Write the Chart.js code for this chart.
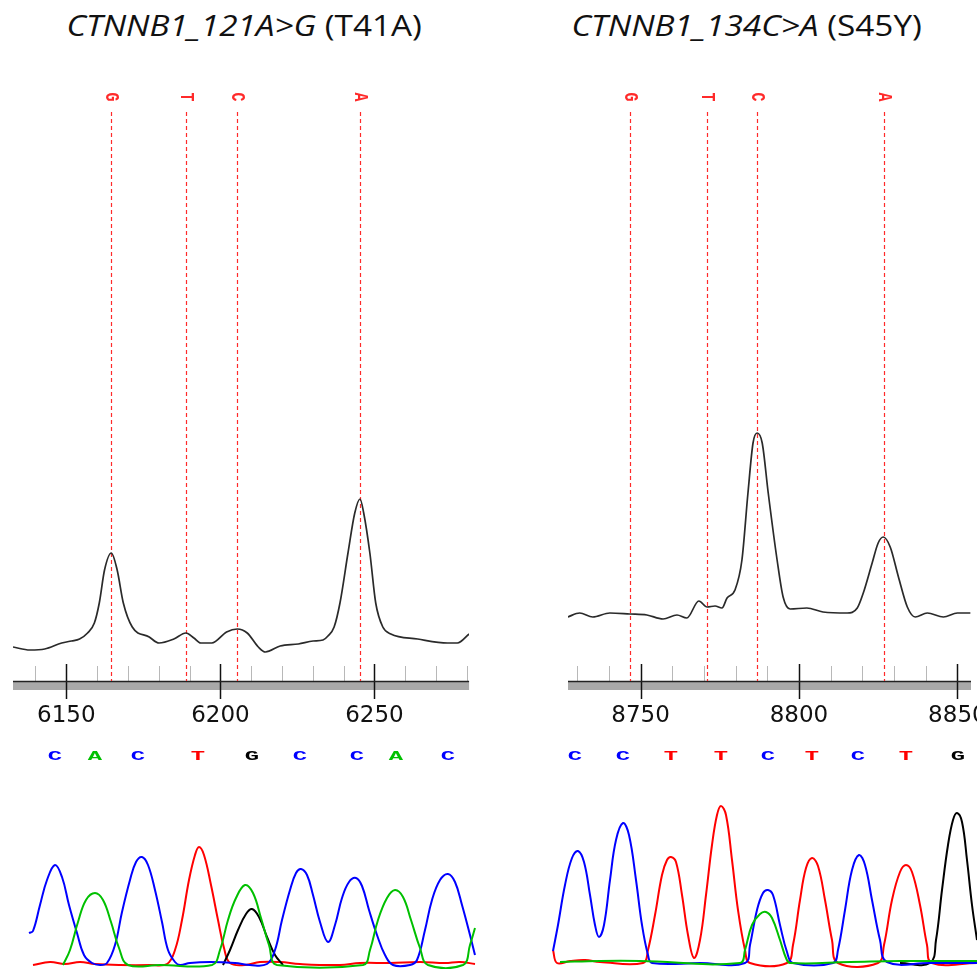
<!DOCTYPE html>
<html>
<head>
    <title>CTNNB1 chromatograms</title>
    <script src="https://cdn.jsdelivr.net/npm/chart.js"></script>
    <style>
        html, body { margin: 0; padding: 0; background: #fff; width: 977px; height: 969px; overflow: hidden; }
        canvas { position: absolute; }
        .title { position: absolute; top: 10px; line-height: 30px; font-family: "Open Sans", sans-serif; font-size: 30px; color: #111; white-space: nowrap; text-align: center; }
        .title span { display: inline-block; transform-origin: center; }
    </style>
</head>
<body>
    <div class="title" style="left:0px;width:488px"><span id="titleL"></span></div>
    <div class="title" style="left:540px;width:414px"><span id="titleR"></span></div>
    <canvas id="traceL" width="488" height="660" style="left:0px;top:80px"></canvas>
    <canvas id="traceR" width="470" height="660" style="left:540px;top:80px"></canvas>
    <canvas id="chromL" width="488" height="229" style="left:0px;top:740px"></canvas>
    <canvas id="chromR" width="437" height="229" style="left:540px;top:740px"></canvas>
<script>
    // titles
    const titleL = ['CTNNB1_121A>G', '(T41A)'];
    const titleR = ['CTNNB1_134C>A', '(S45Y)'];

    // mutation trace, left panel (position, signal)
    const traceL_pos = [6132.7, 6138.2, 6143.0, 6148.5, 6151.7, 6154.3, 6156.9, 6159.1, 6160.7, 6162.4, 6164.6, 6166.5, 6168.5, 6171.4,
        6176.9, 6180.1, 6184.9, 6188.8, 6191.4, 6193.6, 6197.2, 6202.0, 6205.5, 6208.7, 6212.3, 6214.6, 6219.4, 6225.3, 6230.1,
        6233.3, 6234.9, 6236.9, 6238.8, 6241.4, 6243.6, 6245.3, 6246.5, 6248.5, 6250.4, 6252.7, 6255.3, 6264.0, 6273.7, 6276.9, 6280.7];
    const traceL_val = [34, 31, 32, 38, 40, 42, 48, 58, 78, 111, 128, 111, 78, 54,
        44, 38, 42, 48, 43, 38, 38, 49, 52, 48, 34, 29, 35, 37, 40,
        41, 45, 54, 78, 128, 168, 182, 168, 128, 78, 54, 47, 42, 38, 38, 47];
    const marksL_pos = [6164.6, 6188.8, 6205.5, 6245.3];
    const marksL_base = ['G', 'T', 'C', 'A'];
    const ticksL = [6140, 6150, 6160, 6170, 6180, 6190, 6200, 6210, 6220, 6230, 6240, 6250, 6260, 6270, 6280];
    const rangeL = [6132.7, 6280.7];

    // mutation trace, right panel
    const traceR_pos = [8727.0, 8730.8, 8734.9, 8740.3, 8746.6, 8752.0, 8757.1, 8761.5, 8764.6, 8768.4, 8771.0, 8773.5, 8775.7,
        8777.3, 8779.8, 8782.0, 8783.9, 8785.5, 8786.8, 8788.4, 8790.3, 8793.1, 8795.0, 8797.2, 8802.5, 8807.6, 8815.2,
        8818.4, 8820.3, 8823.1, 8825.0, 8826.6, 8828.8, 8831.4, 8834.2, 8836.7, 8840.5, 8845.6, 8850.0, 8854.1];
    const traceR_val = [64, 68, 64, 68, 67, 66, 62, 66, 63, 80, 74, 75, 73,
        83, 91, 121, 188, 238, 248, 238, 188, 121, 84, 72, 73, 69, 68,
        73, 88, 118, 138, 144, 134, 104, 74, 64, 68, 64, 68, 68];
    const marksR_pos = [8746.6, 8771.0, 8786.8, 8826.7];
    const marksR_base = ['G', 'T', 'C', 'A'];
    const ticksR = [8730, 8740, 8750, 8760, 8770, 8780, 8790, 8800, 8810, 8820, 8830, 8840, 8850];
    const rangeR = [8727.1, 8854.3];

    // base calls
    const callsL_pos = [55, 95, 138, 198, 252, 300, 357, 396, 448];
    const callsL = ['C', 'A', 'C', 'T', 'G', 'C', 'C', 'A', 'C'];
    const callsR_pos = [35, 83, 131, 181, 228, 272, 318, 366, 418];
    const callsR = ['C', 'C', 'T', 'T', 'C', 'T', 'C', 'T', 'G'];

    // chromatogram, left panel (scan, intensity)
    const chromL_C_x = [29, 33, 40, 47, 55, 62, 69, 77, 84, 92, 100, 107, 115, 122, 130, 136, 142, 148, 155, 162, 168, 175, 180, 190, 210, 235, 250,
        267, 275, 282, 290, 296, 301, 307, 313, 320, 328, 335, 342, 349, 356, 362, 369, 377, 385, 393, 410, 417, 425, 432, 440, 448, 455, 462, 470, 475];
    const chromL_C_y = [32, 34, 60, 85, 100, 88, 60, 32, 10, 2, 0, 2, 20, 53, 85, 103, 108, 100, 75, 43, 15, 3, 0, 2, 3, 2, 0,
        1, 15, 45, 75, 92, 96, 90, 70, 43, 23, 40, 67, 83, 87, 79, 55, 30, 10, 0, 0, 5, 35, 65, 85, 91, 83, 60, 30, 10];
    const chromL_A_x = [63, 70, 78, 86, 95, 103, 111, 119, 128, 160, 212, 220, 228, 236, 245, 253, 261, 269, 277, 363, 370, 378, 387, 395, 403, 411, 420, 428, 463, 470, 475];
    const chromL_A_y = [0, 15, 43, 65, 72, 65, 43, 17, 0, 0, 0, 15, 45, 67, 80, 72, 47, 20, 0, 0, 15, 45, 67, 75, 68, 45, 17, 0, 0, 20, 37];
    const chromL_G_x = [223, 230, 238, 246, 252, 259, 267, 275, 283];
    const chromL_G_y = [0, 15, 35, 51, 56, 48, 28, 10, 0];
    const chromL_T_x = [33, 50, 65, 80, 95, 120, 150, 167, 175, 182, 189, 195, 199, 204, 211, 218, 224, 230, 245, 260, 280, 300, 340, 360, 390, 420, 445, 460, 475];
    const chromL_T_y = [0, 3, 1, 3, 1, 0, 0, 1, 15, 45, 85, 110, 118, 110, 80, 45, 17, 2, 0, 3, 3, 1, 0, 2, 2, 3, 2, 3, 1];

    // chromatogram, right panel
    const chromR_C_x = [13, 18, 25, 32, 38, 44, 50, 55, 59, 64, 70, 76, 83, 89, 96, 102, 108, 112, 160, 205, 210, 217, 223, 228, 233, 240, 247, 253,
        293, 298, 305, 312, 319, 325, 332, 340, 347, 390, 437];
    const chromR_C_y = [14, 40, 80, 107, 114, 103, 70, 40, 28, 40, 85, 125, 142, 130, 85, 40, 10, 2, 2, 2, 20, 55, 72, 75, 70, 40, 13, 2,
        2, 15, 55, 95, 110, 100, 65, 25, 3, 2, 2];
    const chromR_T_x = [13, 17, 30, 45, 60, 103, 108, 115, 122, 127, 131, 136, 142, 148, 154, 160, 166, 172, 177, 181, 186, 192, 198, 205, 210,
        247, 253, 260, 266, 272, 278, 285, 292, 298, 338, 344, 352, 360, 366, 372, 380, 387, 392, 437];
    const chromR_T_y = [15, 2, 4, 5, 3, 2, 15, 50, 90, 105, 108, 103, 70, 30, 7, 25, 70, 120, 150, 159, 150, 105, 55, 15, 2,
        2, 20, 65, 97, 107, 99, 65, 25, 2, 2, 20, 65, 93, 100, 93, 60, 20, 2, 2];
    const chromR_A_x = [20, 60, 100, 200, 205, 212, 220, 226, 232, 240, 246, 250, 310, 360, 437];
    const chromR_A_y = [3, 4, 4, 2, 15, 40, 51, 53, 47, 25, 7, 2, 3, 4, 4];
    const chromR_G_x = [360, 390, 396, 402, 408, 413, 417, 422, 427, 432, 437];
    const chromR_G_y = [2, 2, 25, 75, 120, 145, 152, 143, 105, 60, 25];

    const baseColors = { A: '#00c000', C: '#0000ff', G: '#000000', T: '#ff0000' };

    function zip(xs, ys) {
        return xs.map((x, i) => ({ x: x, y: ys[i] }));
    }

    function setTitle(id, parts) {
        const el = document.getElementById(id);
        const it = document.createElement('i');
        it.textContent = parts[0];
        el.appendChild(it);
        el.appendChild(document.createTextNode(' ' + parts[1]));
    }
    setTitle('titleL', titleL);
    setTitle('titleR', titleR);
    // squeeze to the reference width (Calibri-like)
    [['titleL', 355], ['titleR', 350]].forEach(([id, w]) => {
        const el = document.getElementById(id);
        el.style.transform = 'scaleX(' + (w / el.offsetWidth) + ')';
    });

    function axisPlugin(ticks, marks, bases) {
        return {
            id: 'seqAxis',
            beforeDatasetsDraw(chart) {
                const ctx = chart.ctx, a = chart.chartArea, sx = chart.scales.x;
                ctx.save();
                ctx.fillStyle = '#a9a9a9';
                ctx.fillRect(a.left, a.bottom + 1, a.right - a.left, 8);
                ticks.forEach(v => {
                    const px = Math.round(sx.getPixelForValue(v)) + 0.5;
                    ctx.beginPath();
                    if (v % 50 === 0) {
                        ctx.strokeStyle = '#111';
                        ctx.lineWidth = 1.5;
                        ctx.moveTo(px, a.bottom - 17);
                        ctx.lineTo(px, a.bottom + 18);
                    } else {
                        ctx.strokeStyle = '#b8b8b8';
                        ctx.lineWidth = 1;
                        ctx.moveTo(px, a.bottom - 15);
                        ctx.lineTo(px, a.bottom);
                    }
                    ctx.stroke();
                });
                ctx.strokeStyle = '#222';
                ctx.lineWidth = 1.5;
                ctx.beginPath();
                ctx.moveTo(a.left, a.bottom + 0.5);
                ctx.lineTo(a.right, a.bottom + 0.5);
                ctx.stroke();

                // base-change markers: dashed red verticals with rotated base letters
                ctx.strokeStyle = '#ff2a2a';
                ctx.lineWidth = 1.2;
                ctx.setLineDash([4, 3]);
                marks.forEach(p => {
                    const px = Math.round(sx.getPixelForValue(p)) + 0.5;
                    ctx.beginPath();
                    ctx.moveTo(px, a.top);
                    ctx.lineTo(px, a.bottom);
                    ctx.stroke();
                });
                ctx.setLineDash([]);

                ctx.fillStyle = '#ff2a2a';
                ctx.font = 'bold 15px "Liberation Mono"';
                ctx.textAlign = 'center';
                ctx.textBaseline = 'middle';
                marks.forEach((p, i) => {
                    ctx.save();
                    ctx.translate(Math.round(sx.getPixelForValue(p)) + 0.5, a.top - 15);
                    ctx.rotate(Math.PI / 2);
                    ctx.scale(1, 1.35);
                    ctx.fillText(bases[i], 0, 0);
                    ctx.restore();
                });
                ctx.restore();
            }
        };
    }

    function tracePanel(id, pos, val, marks, bases, ticks, range, padL, padR) {
        new Chart(document.getElementById(id), {
            type: 'line',
            data: {
                datasets: [{
                    data: zip(pos, val),
                    borderColor: '#2a2a2a',
                    borderWidth: 1.7,
                    pointRadius: 0,
                    cubicInterpolationMode: 'monotone'
                }]
            },
            options: {
                responsive: false,
                animation: false,
                events: [],
                layout: { padding: { left: padL, right: padR, top: 32, bottom: 0 } },
                plugins: { legend: { display: false }, tooltip: { enabled: false } },
                scales: {
                    x: {
                        type: 'linear',
                        min: range[0],
                        max: range[1],
                        afterBuildTicks: s => { s.ticks = ticks.map(v => ({ value: v })); },
                        afterFit: s => { s.height = 59; },
                        border: { display: false },
                        grid: { display: false, drawTicks: false },
                        ticks: {
                            autoSkip: false,
                            maxRotation: 0,
                            padding: 21,
                            color: '#111',
                            font: { family: 'DejaVu Sans', size: 23 },
                            callback: v => (v % 50 === 0 ? String(v) : '')
                        }
                    },
                    y: { display: false, min: 0, max: 569 }
                }
            },
            plugins: [axisPlugin(ticks, marks, bases)]
        });
    }

    function chromPanel(id, traces, callPos, calls, xmax) {
        const datasets = traces.map(t => ({
            data: zip(t[1], t[2]),
            borderColor: baseColors[t[0]],
            borderWidth: 2,
            pointRadius: 0,
            tension: 0.4
        }));
        new Chart(document.getElementById(id), {
            type: 'line',
            data: { datasets: datasets },
            options: {
                responsive: false,
                animation: false,
                events: [],
                layout: { padding: 0 },
                plugins: { legend: { display: false }, tooltip: { enabled: false } },
                scales: {
                    x: { type: 'linear', display: false, min: 0, max: xmax },
                    y: { display: false, min: -4, max: 225 }
                }
            },
            plugins: [{
                id: 'baseCalls',
                afterDraw(chart) {
                    const ctx = chart.ctx, sx = chart.scales.x;
                    ctx.save();
                    ctx.font = 'bold 14px "Liberation Mono"';
                    ctx.textAlign = 'center';
                    ctx.textBaseline = 'middle';
                    calls.forEach((b, i) => {
                        ctx.save();
                        ctx.translate(sx.getPixelForValue(callPos[i]), 17);
                        ctx.scale(1.7, 0.95);
                        ctx.fillStyle = baseColors[b];
                        ctx.fillText(b, 0, 0);
                        ctx.restore();
                    });
                    ctx.restore();
                }
            }]
        });
    }

    tracePanel('traceL', traceL_pos, traceL_val, marksL_pos, marksL_base, ticksL, rangeL, 13, 13);
    tracePanel('traceR', traceR_pos, traceR_val, marksR_pos, marksR_base, ticksR, rangeR, 28, 39);

    chromPanel('chromL', [
        ['A', chromL_A_x, chromL_A_y],
        ['C', chromL_C_x, chromL_C_y],
        ['G', chromL_G_x, chromL_G_y],
        ['T', chromL_T_x, chromL_T_y]
    ], callsL_pos, callsL, 488);
    chromPanel('chromR', [
        ['A', chromR_A_x, chromR_A_y],
        ['C', chromR_C_x, chromR_C_y],
        ['G', chromR_G_x, chromR_G_y],
        ['T', chromR_T_x, chromR_T_y]
    ], callsR_pos, callsR, 437);
</script>
</body>
</html>
